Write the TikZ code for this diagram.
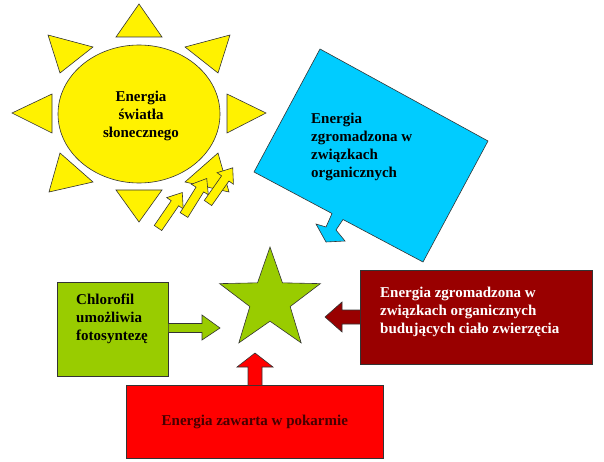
\documentclass[tikz,border=0pt]{standalone}
\usepackage{fontspec}
\setmainfont{Liberation Serif}
\usetikzlibrary{shapes.geometric}
\begin{document}
\begin{tikzpicture}[x=1pt,y=-1pt,
  shp/.style={draw=black!80, line width=0.6pt, line join=miter},
  lbl/.style={font=\bfseries\fontsize{15}{18}\selectfont, align=left, inner sep=0pt},
  yarrow/.pic={\draw[shp, fill=yellow] (0,-4.5) -- (30,-4.5) -- (30,-10) -- (43,0) -- (30,10) -- (30,4.5) -- (0,4.5) -- cycle;}]
\useasboundingbox (0,0) rectangle (604,462);
% sun
\foreach \p in {
 {(116,37) -- (162,37) -- (139,4)},
 {(116,190) -- (162,190) -- (139,222)},
 {(52,94) -- (52,133) -- (12,113)},
 {(227,94) -- (227,133) -- (266,113)},
 {(48,35) -- (93,47) -- (60,73)},
 {(230,35) -- (185,47) -- (218,73)},
 {(60,153) -- (93,182) -- (49,192)},
 {(218,153) -- (185,182) -- (229,192)}}
 {\draw[shp, fill=yellow] \p -- cycle;}
\node[shp, fill=yellow, ellipse, minimum width=162pt, minimum height=138pt, inner sep=0pt] (sun) at (139,114) {};
\node[lbl, align=center] (suntext) at (141,116) {Energia\\światła\\słonecznego};
% yellow arrows
\pic[rotate=55.6] at (158,228) {yarrow};
\pic[rotate=58.1] at (184,215) {yarrow};
\pic[rotate=54.9] at (208,203) {yarrow};
% blue callout
\draw[shp, fill={rgb,255:red,0;green,204;blue,255}] (320,49) -- (488,141) -- (423,262) -- (343,219.5) -- (336,230) -- (345,241) -- (326,242) -- (316,224) -- (326,227) -- (332,213.5) -- (254,172) -- cycle;
\node[lbl, anchor=north west] (bluetext) at (311,113) {Energia\\zgromadzona w\\związkach\\organicznych};
% star
\node[shp, fill={rgb,255:red,153;green,204;blue,0}, star, star points=5, star point ratio=2.5, minimum size=106pt, inner sep=0pt] (star) at (270,300) {};
% green box
\node[shp, fill={rgb,255:red,153;green,204;blue,0}, minimum width=111pt, minimum height=94pt, anchor=north west] (green) at (57,282) {};
\node[lbl, anchor=north west] (greentext) at (76,294) {Chlorofil\\umożliwia\\fotosyntezę};
\draw[shp, fill={rgb,255:red,153;green,204;blue,0}] (green.east |- 0,323.5) -- (202,323.5) -- (202,315) -- (220,328) -- (202,340) -- (202,332.5) -- (green.east |- 0,332.5);
% dark red box
\node[shp, fill={rgb,255:red,153;green,0;blue,0}, minimum width=232pt, minimum height=94pt, anchor=north west] (dred) at (360,270) {};
\node[lbl, anchor=north west, text=white] (dredtext) at (380,287) {Energia zgromadzona w\\związkach organicznych\\budujących ciało zwierzęcia};
\draw[shp, fill={rgb,255:red,153;green,0;blue,0}] (dred.west |- 0,310) -- (342,310) -- (342,302) -- (325,317) -- (342,332) -- (342,324) -- (dred.west |- 0,324);
% red box
\node[shp, fill=red, minimum width=257pt, minimum height=73pt, anchor=north west] (rbox) at (126,385) {};
\node[lbl, text={rgb,255:red,70;green,0;blue,0}] (rtext) at (rbox.center) {Energia zawarta w pokarmie};
\draw[shp, fill=red] (rbox.north -| 248,0) -- (248,367) -- (237,367) -- (255,353) -- (273,367) -- (262,367) -- (rbox.north -| 262,0);
\end{tikzpicture}
\end{document}
